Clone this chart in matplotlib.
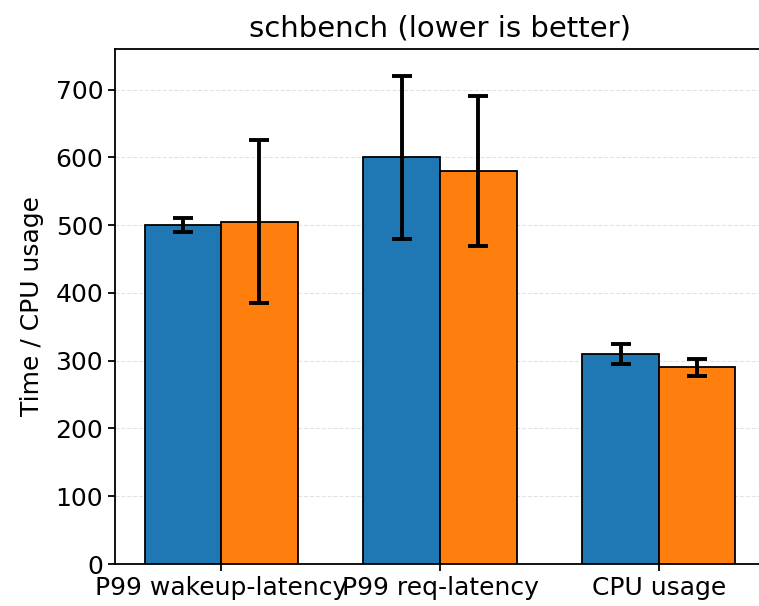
import numpy as np
import matplotlib
matplotlib.use("Agg")
import matplotlib.pyplot as plt

# Werte
categories = ["P99 wakeup-latency", "P99 req-latency", "CPU usage"]
blue_vals = [500, 600, 310]
blue_err = [10, 120, 15]
orange_vals = [505, 580, 290]
orange_err = [120, 110, 12]

plt.rcParams["font.family"] = ["DejaVu Sans"]
plt.rcParams["font.size"] = 18

fig = plt.figure(figsize=(7.59, 6.06), dpi=100)
ax = fig.add_axes([115 / 759, 1 - 564 / 606, 650 / 759, (564 - 49) / 606])

x = np.arange(len(categories))
w = 0.35
err_kw = dict(elinewidth=2.8, capthick=2.8, ecolor="black")

ax.bar(x - w / 2, blue_vals, w, yerr=blue_err, capsize=7, color="#1f77b4",
       edgecolor="black", linewidth=1.3, error_kw=err_kw, zorder=3)
ax.bar(x + w / 2, orange_vals, w, yerr=orange_err, capsize=7, color="#ff7f0e",
       edgecolor="black", linewidth=1.3, error_kw=err_kw, zorder=3)

ax.set_xticks(x)
ax.set_xticklabels(categories)
ax.set_ylim(0, 760)
ax.set_yticks(range(0, 800, 100))
ax.set_ylabel("Time / CPU usage", labelpad=8)
ax.set_title("schbench (lower is better)", fontsize=21, pad=9)
ax.grid(axis="y", linestyle="--", alpha=0.35, zorder=0)

for s in ax.spines.values():
    s.set_linewidth(1.3)
# rechte Kante ist im Original abgeschnitten
ax.spines["right"].set_visible(False)
ax.tick_params(width=1.3, length=5)

fig.savefig("out.png", dpi=100)
